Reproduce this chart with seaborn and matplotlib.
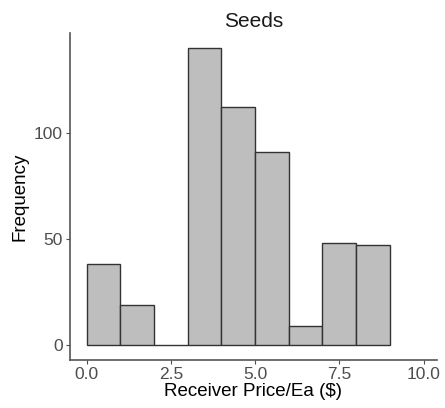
import numpy as np
import pandas as pd
import seaborn as sns
import matplotlib.pyplot as plt

bin_edges = [0, 1, 2, 3, 4, 5, 6, 7, 8, 9]
bin_centers = [0.5, 1.5, 2.5, 3.5, 4.5, 5.5, 6.5, 7.5, 8.5]
counts = [38, 19, 0, 140, 112, 91, 9, 48, 47]
x_ticks = [0.0, 2.5, 5.0, 7.5, 10.0]
y_ticks = [0, 50, 100]

df = pd.DataFrame({'price': bin_centers, 'n': counts})

sns.set_style('ticks')
plt.rcParams['font.family'] = ['Liberation Sans', 'DejaVu Sans']

fig = plt.figure(figsize=(4.45, 4.08), dpi=100)
ax = fig.add_axes([0.157, 0.118, 0.825, 0.801])
sns.histplot(data=df, x='price', weights='n', bins=bin_edges, ax=ax,
             color='#bebebe', edgecolor='#333333', linewidth=1, alpha=1)

ax.set_xlim(-0.5, 10.4)
ax.set_ylim(-7, 147)
ax.set_xticks(x_ticks)
ax.set_xticklabels(['0.0', '2.5', '5.0', '7.5', '10.0'])
ax.set_yticks(y_ticks)
ax.tick_params(colors='#4d4d4d', labelsize=12.5, length=3, width=0.8, pad=2)
for side in ['left', 'bottom']:
    ax.spines[side].set_color('#555555')
    ax.spines[side].set_linewidth(1.2)
sns.despine(ax=ax)

ax.set_title('Seeds', fontsize=15, color='#1a1a1a', pad=4)
ax.set_xlabel('Receiver Price/Ea ($)', fontsize=13.5, color='black', labelpad=1)
ax.set_ylabel('Frequency', fontsize=13.5, color='black', labelpad=4)

fig.savefig('out.png', dpi=100)
